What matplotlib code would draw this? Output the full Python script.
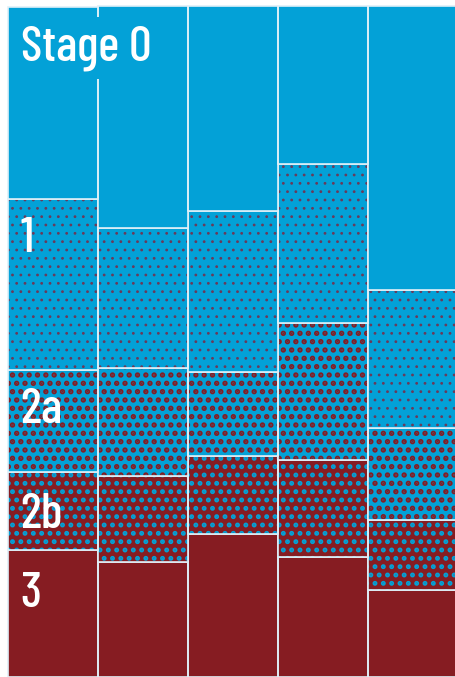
import numpy as np
import matplotlib
matplotlib.use("Agg")
import matplotlib.pyplot as plt

# share of patients by stage, five groups (percent)
stages = ["Stage 0", "1", "2a", "2b", "3"]
stage0 = [28.6, 33.1, 30.6, 23.5, 42.3]
stage1 = [25.6, 20.9, 24.0, 23.8, 20.6]
stage2a = [15.2, 16.1, 12.5, 20.3, 13.7]
stage2b = [11.6, 12.8, 11.6, 14.5, 10.4]
stage3 = [18.9, 17.1, 21.3, 17.9, 13.0]

BLUE = "#03a1d7"
RED = "#861c22"

plt.rcParams['font.family'] = ['Barlow Condensed', 'DejaVu Sans']

fig = plt.figure(figsize=(4.56, 6.77), dpi=100)
ax = fig.add_axes([0, 0, 1, 1])

x = np.arange(len(stage0))
# bottom to top: values, face colour, dot colour, dot width
series = [stage3, stage2b, stage2a, stage1, stage0]
faces = [RED, RED, BLUE, BLUE, BLUE]
dots = [None, BLUE, RED, "#6a3a5a", None]
dot_lw = [0, 2.3, 2.6, 0.8, 0]
bottom = np.zeros(len(x))
for vals, fc, dc, hl in zip(series, faces, dots, dot_lw):
    vals = np.array(vals)
    ax.bar(x, vals, width=1.0, bottom=bottom, color=fc, linewidth=0)
    if dc:
        with plt.rc_context({'hatch.linewidth': hl}):
            ax.bar(x, vals, width=1.0, bottom=bottom, facecolor="none",
                   edgecolor=dc, linewidth=0, hatch="..")
    ax.bar(x, vals, width=1.0, bottom=bottom, fill=False,
           edgecolor="#dff0f8", linewidth=1.2)
    bottom += vals

ax.set_xlim(-0.5 - 8 / 90, -0.5 + 448 / 90)
ax.set_ylim(0, 100 + 6 / 671 * 100)
ax.axis('off')

# stage labels inside the first column (baseline positions)
label_y = [91.95, 63.3, 37.85, 22.2, 10.4]
for name, yy in zip(stages, label_y):
    bb = None
    if name == "Stage 0":
        bb = dict(facecolor=BLUE, edgecolor="none", pad=6)
    ax.text(-0.36, yy, name, color="white", fontsize=36, va="baseline",
            ha="left", fontweight="medium", bbox=bb)

fig.savefig("out.png", dpi=100)
